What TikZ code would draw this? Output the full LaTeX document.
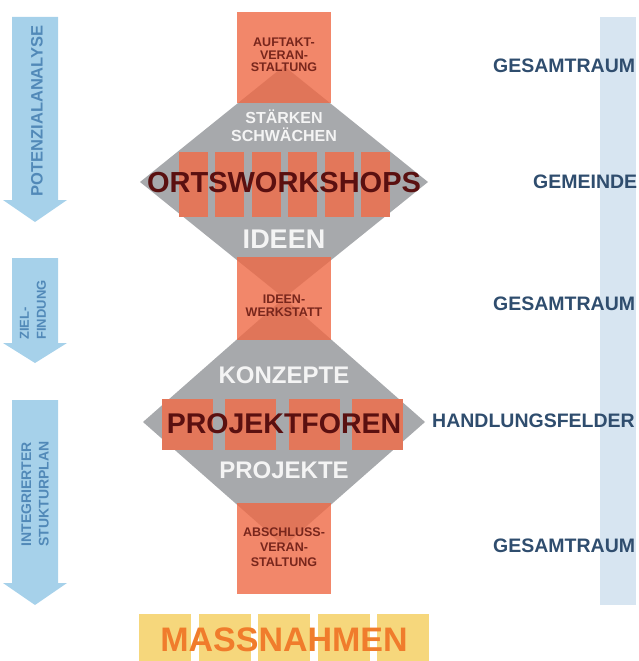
\documentclass[tikz,border=0pt]{standalone}
\usepackage{fontspec}
\setmainfont{Liberation Sans}
\usetikzlibrary{positioning}
\definecolor{arrow_blue}{HTML}{A6D1EA}
\definecolor{arrow_text}{HTML}{5189B8}
\definecolor{band_blue}{HTML}{D7E5F1}
\definecolor{label_blue}{HTML}{2F4D6E}
\definecolor{grey_fill}{HTML}{A7A9AC}
\definecolor{stage_orange}{HTML}{EF6945}
\definecolor{small_orange}{HTML}{E3775A}
\definecolor{box_text}{HTML}{78261C}
\definecolor{dark_red}{HTML}{5A1010}
\definecolor{light_text}{HTML}{F4F4F4}
\definecolor{yellow_fill}{HTML}{F6D77C}
\definecolor{result_orange}{HTML}{F07C2C}

\begin{document}
\begin{tikzpicture}
    [
        x=1pt, y=-1pt, node distance=36.5pt and 36.5pt, on grid,
        stage_box/.style={rectangle, fill=stage_orange, fill opacity=0.8, minimum width=94pt, inner sep=0pt},
        workshop_box/.style={rectangle, fill=small_orange, minimum width=29pt, minimum height=65pt, inner sep=0pt},
        forum_box/.style={rectangle, fill=small_orange, minimum width=51pt, minimum height=51pt, inner sep=0pt},
        result_box/.style={rectangle, fill=yellow_fill, minimum width=52pt, minimum height=47pt, inner sep=0pt},
        box_label/.style={inner sep=0pt, align=center, text=box_text, font=\bfseries\fontsize{12.5}{12.5}\selectfont},
        white_label/.style={inner sep=0pt, align=center, text=light_text, font=\bfseries\fontsize{24}{28}\selectfont},
        big_label/.style={inner sep=0pt, text=dark_red, font=\bfseries\fontsize{28.5}{30}\selectfont},
        side_label/.style={inner sep=0pt, anchor=base west, text=label_blue, font=\bfseries\fontsize{19.5}{20}\selectfont},
        arrow_label/.style={inner sep=0pt, rotate=90, align=left, text=arrow_text, font=\bfseries\fontsize{14}{17.5}\selectfont},
    ]
        \useasboundingbox (0,0) rectangle (638,661) ;
        \fill[arrow_blue] (12,17) -- (58,17) -- (58,200) -- (67,200) -- (35,222) -- (3,200) -- (12,200) -- cycle ;
        \fill[arrow_blue] (12,258) -- (58,258) -- (58,343) -- (67,343) -- (35,363) -- (3,343) -- (12,343) -- cycle ;
        \fill[arrow_blue] (12,400) -- (58,400) -- (58,583) -- (67,583) -- (35,605) -- (3,583) -- (12,583) -- cycle ;
        \fill[band_blue] (600,17) rectangle (636,605) ;
        \node[arrow_label, font=\bfseries\fontsize{16.5}{17}\selectfont] (potenzial) at (37,111) {POTENZIALANALYSE} ;
        \node[arrow_label, font=\bfseries\fontsize{13}{17}\selectfont] (ziel) at (33,310) {ZIEL-\\FINDUNG} ;
        \node[arrow_label] (integriert) at (35,494) {INTEGRIERTER\\STUKTURPLAN} ;
        \node[side_label] (raum1) at (493,72) {GESAMTRAUM} ;
        \node[side_label] (gemeinde) at (533,188) {GEMEINDE} ;
        \node[side_label] (raum2) at (493,310) {GESAMTRAUM} ;
        \node[side_label] (felder) at (432,427) {HANDLUNGSFELDER} ;
        \node[side_label] (raum3) at (493,552) {GESAMTRAUM} ;
        \fill[grey_fill] (140,182) -- (284,66) -- (428,182) -- (284,298) -- cycle ;
        \fill[grey_fill] (143,422) -- (284,298) -- (425,422) -- (284,546) -- cycle ;
        \node[stage_box, minimum height=91pt] (auftakt) at (284,57.5) {} ;
        \node[stage_box, minimum height=83pt] (werkstatt) at (284,298.5) {} ;
        \node[stage_box, minimum height=91pt] (abschluss) at (284,548.5) {} ;
        \node[workshop_box] (ws1) at (193,184.5) {} ;
        \node[workshop_box] (ws2) [right = of ws1] {} ;
        \node[workshop_box] (ws3) [right = of ws2] {} ;
        \node[workshop_box] (ws4) [right = of ws3] {} ;
        \node[workshop_box] (ws5) [right = of ws4] {} ;
        \node[workshop_box] (ws6) [right = of ws5] {} ;
        \node[forum_box] (fo1) at (187,424.5) {} ;
        \node[forum_box] (fo2) [right = 63.5pt of fo1] {} ;
        \node[forum_box] (fo3) [right = 63.5pt of fo2] {} ;
        \node[forum_box] (fo4) [right = 63.5pt of fo3] {} ;
        \node[result_box] (ma1) at (165,637.5) {} ;
        \node[result_box] (ma2) [right = 59.5pt of ma1] {} ;
        \node[result_box] (ma3) [right = 59.5pt of ma2] {} ;
        \node[result_box] (ma4) [right = 59.5pt of ma3] {} ;
        \node[result_box] (ma5) [right = 59.5pt of ma4] {} ;
        \node[box_label] (auftakt_text) at (284,55) {AUFTAKT-\\VERAN-\\STALTUNG} ;
        \node[box_label, font=\bfseries\fontsize{12.5}{13}\selectfont] (werkstatt_text) at (284,306) {IDEEN-\\WERKSTATT} ;
        \node[box_label, font=\bfseries\fontsize{12.5}{15}\selectfont] (abschluss_text) at (284,547.5) {ABSCHLUSS-\\VERAN-\\STALTUNG} ;
        \node[white_label, font=\bfseries\fontsize{16}{18}\selectfont] (staerken) at (284,126) {STÄRKEN\\SCHWÄCHEN} ;
        \node[big_label, font=\bfseries\fontsize{29}{30}\selectfont] (ortsworkshops) at (284,183) {ORTSWORKSHOPS} ;
        \node[white_label, font=\bfseries\fontsize{27}{28}\selectfont] (ideen) at (284,239) {IDEEN} ;
        \node[white_label] (konzepte) at (284,375.5) {KONZEPTE} ;
        \node[big_label] (projektforen) at (284,424) {PROJEKTFOREN} ;
        \node[white_label] (projekte) at (284,470) {PROJEKTE} ;
        \node[inner sep=0pt, text=result_orange, font=\bfseries\fontsize{34}{36}\selectfont] (massnahmen) at (284,639.5) {MASSNAHMEN} ;
    \end{tikzpicture}
\end{document}
